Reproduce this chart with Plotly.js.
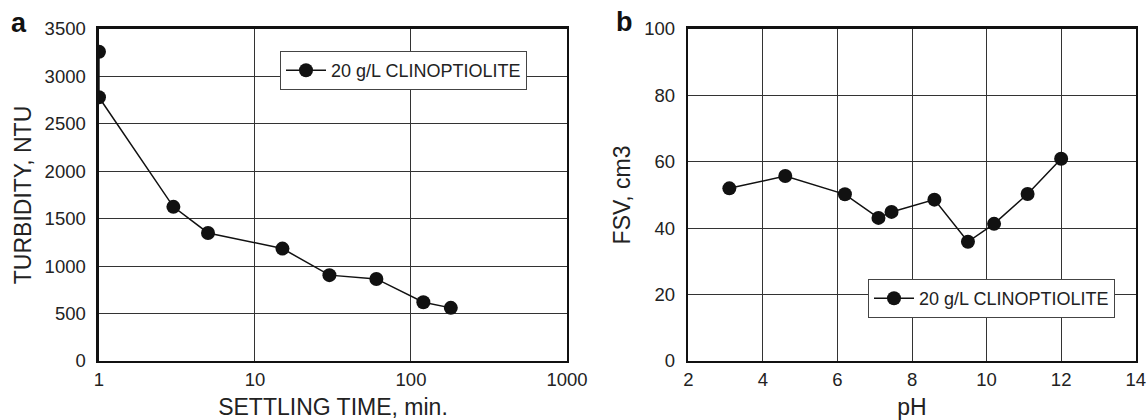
<!DOCTYPE html>
<html>
<head>
<meta charset="utf-8">
<script src="https://cdn.plot.ly/plotly-3.0.1.min.js"></script>
<style>html,body{margin:0;padding:0;background:#fff;}#chart{width:1148px;height:420px;}</style>
</head>
<body>
<div id="chart"></div>
<script>
// Panel a: turbidity vs settling time
const settlingTime = [1, 1, 3, 5, 15, 30, 60, 120, 180];
const turbidity = [3260, 2780, 1625, 1350, 1185, 905, 865, 620, 560];
// Panel b: FSV vs pH
const pH = [3.1, 4.6, 6.2, 7.1, 7.45, 8.6, 9.5, 10.2, 11.1, 12.0];
const fsv = [52, 55.7, 50.2, 43.1, 44.9, 48.6, 35.9, 41.3, 50.3, 60.9];
const seriesName = "20 g/L CLINOPTIOLITE";
const xTicksA = [1, 10, 100, 1000];
const xTickTextA = ["1", "10", "100", "1000"];

const FONT = "Liberation Sans, Arial, Helvetica, sans-serif";
const marker = {size: 14, color: "#111"};
const line = {color: "#111", width: 1.5};

const traces = [
  {x: settlingTime, y: turbidity, type: "scatter", mode: "lines+markers", name: seriesName,
   marker: marker, line: line, xaxis: "x", yaxis: "y", legend: "legend"},
  {x: pH, y: fsv, type: "scatter", mode: "lines+markers", name: seriesName,
   marker: marker, line: line, xaxis: "x2", yaxis: "y2", legend: "legend2"}
];

const axBase = {
  showline: true, mirror: true, linecolor: "#111", linewidth: 2.5,
  showgrid: true, gridcolor: "#333", gridwidth: 1,
  zeroline: false, ticks: "",
  tickfont: {family: FONT, size: 18.5, color: "#222"}
};
const titleFont = {family: FONT, size: 23, color: "#222"};
const xAx = Object.assign({}, axBase, {ticklabelstandoff: 0});
const yAx = Object.assign({}, axBase, {ticklabelstandoff: 7});

const legBase = {
  xanchor: "left", yanchor: "top",
  bgcolor: "#fff", bordercolor: "#444", borderwidth: 1,
  font: {family: FONT, size: 18, color: "#222"}, itemwidth: 40,
  entrywidth: 252, entrywidthmode: "pixels"
};

const layout = {
  width: 1148, height: 420,
  margin: {l: 0, r: 0, t: 0, b: 0},
  paper_bgcolor: "#fff", plot_bgcolor: "#fff",
  font: {family: FONT, color: "#222"},
  xaxis: Object.assign({}, xAx, {
    type: "log", range: [0, 3], domain: [0.0862, 0.4939], anchor: "y",
    tickvals: xTicksA, ticktext: xTickTextA,
    title: {text: "SETTLING TIME, min.", font: titleFont, standoff: 12}
  }),
  yaxis: Object.assign({}, yAx, {
    range: [0, 3500], dtick: 500, domain: [0.1405, 0.931], anchor: "x",
    title: {text: "TURBIDITY, NTU", font: titleFont, standoff: 7}
  }),
  xaxis2: Object.assign({}, xAx, {
    range: [2, 14], dtick: 2, domain: [0.5996, 0.9893], anchor: "y2",
    title: {text: "pH", font: titleFont, standoff: 12}
  }),
  yaxis2: Object.assign({}, yAx, {
    range: [0, 100], dtick: 20, domain: [0.1405, 0.931], anchor: "x2",
    title: {text: "FSV, cm3", font: titleFont, standoff: 7}
  }),
  legend: Object.assign({}, legBase, {x: 280 / 1148, y: 1 - 51 / 420}),
  legend2: Object.assign({}, legBase, {x: 868 / 1148, y: 1 - 279 / 420}),
  showlegend: true,
  annotations: [
    {text: "<b>a</b>", xref: "paper", yref: "paper", x: 19 / 1148, y: 1 - 23 / 420,
     xanchor: "center", yanchor: "middle", showarrow: false, font: {family: FONT, size: 27, color: "#111"}},
    {text: "<b>b</b>", xref: "paper", yref: "paper", x: 624 / 1148, y: 1 - 22 / 420,
     xanchor: "center", yanchor: "middle", showarrow: false, font: {family: FONT, size: 27, color: "#111"}}
  ]
};

Plotly.newPlot("chart", traces, layout, {staticPlot: true, displayModeBar: false});
</script>
</body>
</html>
